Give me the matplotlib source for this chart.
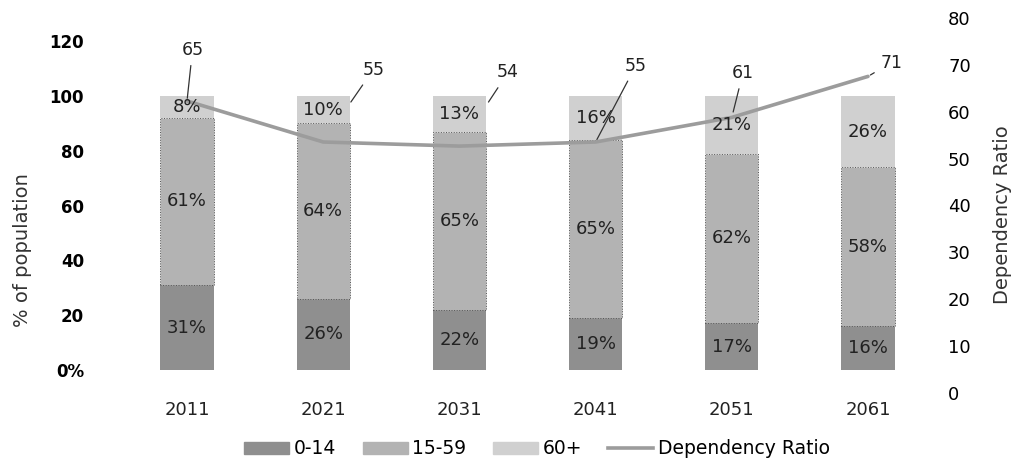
import matplotlib
matplotlib.use("Agg")
import matplotlib.pyplot as plt
from matplotlib.patches import Patch
from matplotlib.lines import Line2D

years = ["2011", "2021", "2031", "2041", "2051", "2061"]
age_0_14 = [31, 26, 22, 19, 17, 16]
age_15_59 = [61, 64, 65, 65, 62, 58]
age_60_plus = [8, 10, 13, 16, 21, 26]
dependency = [65, 55, 54, 55, 61, 71]
left_ticks = [0, 20, 40, 60, 80, 100, 120]
left_tick_labels = ["0%", "20", "40", "60", "80", "100", "120"]
right_ticks = [0, 10, 20, 30, 40, 50, 60, 70, 80]

plt.rcParams['font.family'] = ['DejaVu Sans']

W, H = 1013, 468
fig = plt.figure(figsize=(W / 100, H / 100), dpi=100)
left_px, right_px, top_px, bot_px = 120, 930, 18, 393
ax = fig.add_axes([left_px / W, 1 - bot_px / H, (right_px - left_px) / W, (bot_px - top_px) / H])
ax2 = ax.twinx()   # dependency line
ax3 = ax.twinx()   # right-hand tick labels

c0, c1, c2 = "#8f8f8f", "#b3b3b3", "#d0d0d0"
line_c = "#9c9c9c"
x = list(range(len(years)))
bw = 0.39

ax.bar(x, age_0_14, bw, color=c0, zorder=2)
ax.bar(x, age_15_59, bw, bottom=age_0_14, color=c1, edgecolor="#555555",
       linewidth=0.7, linestyle=":", zorder=2)
bottom2 = [a + b for a, b in zip(age_0_14, age_15_59)]
ax.bar(x, age_60_plus, bw, bottom=bottom2, color=c2, zorder=2)

ax.set_xlim((left_px - 187) / 136.2, (right_px - 187) / 136.2)
ax.set_ylim((370 - bot_px) / 2.74, (370 - top_px) / 2.74)
ax.set_yticks(left_ticks)
ax.set_yticklabels(left_tick_labels, fontsize=12, fontweight="bold")
ax.tick_params(axis="y", length=0, pad=26)
ax.set_xticks(x)
ax.set_xticklabels(years, fontsize=13, color="#222222")
ax.tick_params(axis="x", length=0, pad=6)

# dependency line
ax2.plot(x, dependency, color=line_c, linewidth=2.6, zorder=4, solid_capstyle="round")
ax2.set_ylim((367.5 - bot_px) / 4.10, (367.5 - top_px) / 4.10)
ax2.set_yticks([])

# right axis ticks
ax3.set_ylim(0, 80)
ax3.set_yticks(right_ticks)
ax3.tick_params(axis="y", length=0, pad=13, labelsize=13)
for a in (ax, ax2, ax3):
    for s in a.spines.values():
        s.set_visible(False)

lab_fs = 13
for i in x:
    ax3.text(i, age_0_14[i] / 2, f"{age_0_14[i]}%", transform=ax.transData, ha="center", va="center", fontsize=lab_fs, color="#222222", zorder=5)
    ax3.text(i, age_0_14[i] + age_15_59[i] / 2, f"{age_15_59[i]}%", transform=ax.transData, ha="center", va="center", fontsize=lab_fs, color="#222222", zorder=5)
    ax3.text(i, bottom2[i] + age_60_plus[i] / 2, f"{age_60_plus[i]}%", transform=ax.transData, ha="center", va="center", fontsize=lab_fs, color="#222222", zorder=5)

offsets = [(4, 37), (36, 52), (35, 53), (29, 55), (8, 32), (17, 10)]
shrinks = [2, 35, 38, 2, 4, 2]
for i, (v, off, sb) in enumerate(zip(dependency, offsets, shrinks)):
    ax2.annotate(str(v), xy=(i, v), xytext=off, textcoords="offset points",
                 ha="center", va="center", fontsize=12.5, color="#222222",
                 arrowprops=dict(arrowstyle="-", color="#333333", lw=0.9, shrinkA=3, shrinkB=sb))

fig.text(22 / W, 1 - 250 / H, "% of population", rotation=90, ha="center", va="center", fontsize=14, color="#333333")
fig.text(1002 / W, 1 - 215 / H, "Dependency Ratio", rotation=90, ha="center", va="center", fontsize=14, color="#333333")

handles = [Patch(color=c0), Patch(color=c1), Patch(color=c2), Line2D([0], [0], color=line_c, lw=2.6)]
fig.legend(handles, ["0-14", "15-59", "60+", "Dependency Ratio"], loc="center",
           bbox_to_anchor=(537 / W, 1 - 449 / H), ncol=4, frameon=False, fontsize=13.5,
           handlelength=2.4, handleheight=0.6, columnspacing=1.4, handletextpad=0.25)

fig.savefig("out.png", dpi=100)
